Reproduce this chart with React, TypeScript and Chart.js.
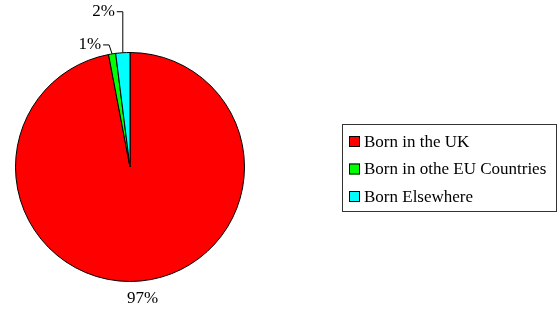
import React, { useEffect, useRef } from "react";
import { Chart, registerables } from "chart.js";

Chart.register(...registerables);

const categories = ["Born in the UK", "Born in othe EU Countries", "Born Elsewhere"];
const values = [97, 1, 2];
const colors = ["#FF0000", "#00FF00", "#00FFFF"];

const FONT = '17px "Liberation Serif"';

const labelPlugin = {
  id: "excelLabels",
  afterDraw(chart: any) {
    const ctx = chart.ctx as CanvasRenderingContext2D;
    const meta = chart.getDatasetMeta(0);
    const data = chart.data.datasets[0].data as number[];
    const total = data.reduce((a, b) => a + b, 0);
    ctx.save();
    ctx.font = FONT;
    ctx.fillStyle = "#000";
    ctx.strokeStyle = "#000";
    ctx.lineWidth = 1;
    meta.data.forEach((arc: any, i: number) => {
      const { x, y, startAngle, endAngle, outerRadius } = arc.getProps(
        ["x", "y", "startAngle", "endAngle", "outerRadius"],
        true
      );
      const a = (startAngle + endAngle) / 2;
      const txt = Math.round((data[i] / total) * 100) + "%";
      const px = x + Math.cos(a) * outerRadius;
      const py = y + Math.sin(a) * outerRadius;
      if (i === 0) {
        const r = outerRadius + 18;
        ctx.textAlign = "center";
        ctx.textBaseline = "middle";
        ctx.fillText(txt, x + Math.cos(a) * r, y + Math.sin(a) * r);
      } else {
        let ex: number, ey: number;
        if (i === 2) {
          ex = px;
          ey = py - 41;
        } else {
          ex = px - 3;
          ey = py - 9;
        }
        ctx.beginPath();
        ctx.moveTo(px, py);
        ctx.lineTo(ex, ey);
        ctx.lineTo(ex - 6, ey);
        ctx.stroke();
        ctx.textAlign = "right";
        ctx.textBaseline = "middle";
        ctx.fillText(txt, ex - 8, ey);
      }
    });

    // legend
    const bx = 342.5, by = 124.5, bw = 214, bh = 87;
    ctx.strokeStyle = "#333";
    ctx.lineWidth = 1;
    ctx.strokeRect(bx, by, bw, bh);
    const labels = chart.data.labels as string[];
    const bg = chart.data.datasets[0].backgroundColor as string[];
    labels.forEach((lab, i) => {
      const cy = 141.5 + i * 27.5;
      ctx.fillStyle = bg[i];
      ctx.fillRect(349, cy - 5.5, 11, 11);
      ctx.strokeStyle = "#000";
      ctx.strokeRect(349.5, cy - 5, 10, 10);
      ctx.fillStyle = "#000";
      ctx.textAlign = "left";
      ctx.textBaseline = "middle";
      ctx.fillText(lab, 364, cy + 1);
    });
    ctx.restore();
  },
};

export default function App() {
  const ref = useRef<HTMLCanvasElement | null>(null);
  useEffect(() => {
    document.body.style.margin = "0";
    const canvas = ref.current!;
    const chart = new Chart(canvas, {
      type: "pie",
      data: {
        labels: categories,
        datasets: [
          {
            data: values,
            backgroundColor: colors,
            borderColor: "#000",
            borderWidth: 1,
          },
        ],
      },
      options: {
        responsive: false,
        animation: false,
        layout: { padding: { left: 15, right: 315, top: 52, bottom: 29 } },
        plugins: {
          legend: { display: false },
          tooltip: { enabled: false },
        },
      },
      plugins: [labelPlugin],
    });
    let alive = true;
    if ((document as any).fonts && (document as any).fonts.load) {
      (document as any).fonts.load(FONT).then(() => {
        if (alive) chart.draw();
      });
    }
    return () => {
      alive = false;
      chart.destroy();
    };
  }, []);
  return <canvas ref={ref} width={560} height={311} style={{ display: "block" }} />;
}
